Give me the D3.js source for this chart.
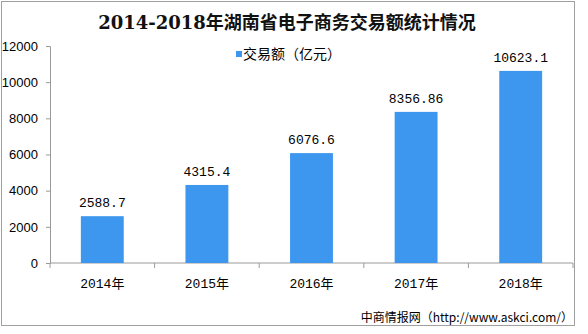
<!DOCTYPE html>
<html><head><meta charset="utf-8">
<script src="https://cdn.jsdelivr.net/npm/d3@7"></script>
<style>body{margin:0;background:#fff}</style>
</head><body>
<svg id="c" width="588" height="334"></svg>
<script>
const categories = ["2014年","2015年","2016年","2017年","2018年"];
const values = [2588.7, 4315.4, 6076.6, 8356.86, 10623.1];
const valueLabels = ["2588.7","4315.4","6076.6","8356.86","10623.1"];
const yTicks = [0,2000,4000,6000,8000,10000,12000];
const title = "2014-2018年湖南省电子商务交易额统计情况";
const legendLabel = "交易额（亿元）";
const source = "中商情报网（http://www.askci.com/）";

const svg = d3.select("#c");
const serif = "'Liberation Mono','Noto Sans CJK SC',monospace";
const sans = "'Liberation Sans','DejaVu Sans',sans-serif";
const axisColor = "#9a9a9a";
const barColor = "#3d97ef";

svg.append("rect").attr("x",1.5).attr("y",1.5).attr("width",573).attr("height",324)
  .attr("fill","#fff").attr("stroke","#a0a0a0").attr("stroke-width",1);

const x = d3.scaleBand().domain(categories).range([50,573]).paddingInner(0.59).paddingOuter(0.295);
const y = d3.scaleLinear().domain([0,12000]).range([263,46]);

// y axis
const ya = svg.append("g").attr("transform","translate(50,0)")
  .call(d3.axisLeft(y).tickValues(yTicks).tickSize(4).tickPadding(8).tickFormat(d3.format("d")));
ya.selectAll("path,line").attr("stroke",axisColor);
ya.selectAll("text").attr("font-family",sans).attr("font-size",13).attr("fill","#000");

// x axis
const band = (573-50)/categories.length;
const xa = svg.append("g").attr("transform","translate(0,263)")
  .call(d3.axisBottom(x).tickSize(0).tickPadding(16));
xa.select("path").attr("stroke",axisColor).attr("d","M50,0H573");
xa.selectAll("text").attr("font-family",serif).attr("font-size",13).attr("fill","#000");
xa.selectAll(".sep").data(d3.range(categories.length+1)).enter().append("line")
  .attr("x1",i=>50+i*band).attr("x2",i=>50+i*band).attr("y1",0).attr("y2",5).attr("stroke",axisColor);

// bars
svg.selectAll(".bar").data(values).enter().append("rect")
  .attr("x",(d,i)=>x(categories[i])).attr("width",x.bandwidth())
  .attr("y",d=>y(d)).attr("height",d=>y(0)-y(d)).attr("fill",barColor);

svg.selectAll(".lbl").data(values).enter().append("text")
  .attr("x",(d,i)=>x(categories[i])+x.bandwidth()/2).attr("y",d=>y(d)-9)
  .attr("text-anchor","middle").attr("font-family",serif).attr("font-size",13).attr("fill","#000")
  .text((d,i)=>valueLabels[i]);

// title
svg.append("text").attr("x",287).attr("y",29).attr("text-anchor","middle")
  .attr("font-family","'DejaVu Serif','Noto Sans CJK SC',serif").attr("font-weight","bold").attr("font-size",18)
  .attr("fill","#111").text(title);

// legend
svg.append("rect").attr("x",236).attr("y",51).attr("width",6).attr("height",6).attr("fill",barColor);
svg.append("text").attr("x",243).attr("y",59).attr("font-family","'Noto Sans CJK SC',sans-serif")
  .attr("font-size",14).attr("fill","#000").text(legendLabel);

// source
svg.append("text").attr("x",573).attr("y",322).attr("text-anchor","end")
  .attr("font-family","'Noto Sans CJK SC',sans-serif").attr("font-size",12).attr("fill","#000").text(source);
</script>
</body></html>
